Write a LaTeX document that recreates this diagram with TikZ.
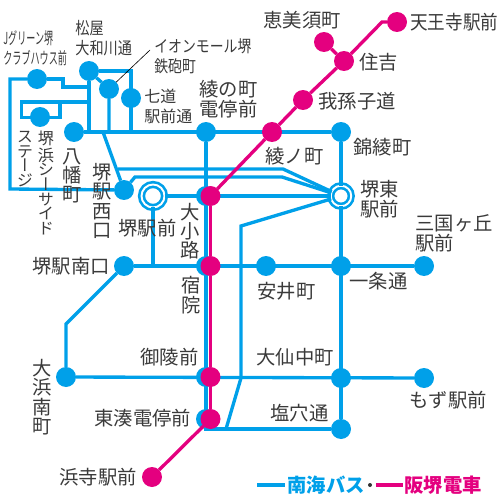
\documentclass[tikz,border=0pt]{standalone}
\usepackage{fontspec}
\usepackage{graphicx}
\newfontfamily\jp{Noto Sans CJK JP}
\newfontfamily\jpv[RawFeature=+vert]{Noto Sans CJK JP}
\definecolor{nankai}{HTML}{00A0E9}
\definecolor{hankai}{HTML}{E4007F}
\definecolor{ink}{HTML}{3A3A3A}
\tikzset{
  bus/.style={nankai, line width=1.9pt},
  tram/.style={hankai, line width=1.9pt},
  leader/.style={black, line width=0.35pt},
  bstop/.style={circle, fill=nankai, minimum size=0.4cm, inner sep=0pt, outer sep=0pt},
  tstop/.style={circle, fill=hankai, minimum size=0.4cm, inner sep=0pt, outer sep=0pt},
  % interchange rings
  ring/.style={circle, draw=nankai, fill=white, line width=1.5pt, double=white, double distance=1.1pt, minimum size=#1, inner sep=0pt, outer sep=0pt},
  lab/.style={font=\jp\fontsize{11}{11.4}\selectfont, text=ink, inner sep=0pt, align=left, anchor=west},
  vlab/.style={font=\jpv\fontsize{11}{11}\selectfont, text=ink, inner sep=0pt, align=center},
  small/.style={font=\jp\fontsize{9.4}{11.2}\selectfont},
  vsmall/.style={font=\jpv\fontsize{9.2}{8.3}\selectfont},
}
\begin{document}
\begin{tikzpicture}[x=0.02cm, y=-0.02cm]
  \useasboundingbox (0,0) rectangle (500,500);
  % bus stops
  \foreach \p/\n in {{(37,79)}/jgreen, {(89,71)}/matsuya, {(109,89)}/aeon, {(131,98)}/shichido,
                     {(40,117)}/stage, {(74,132)}/yawata, {(206,132)}/ayanocho, {(341,132)}/nishiki,
                     {(124,190)}/nishi, {(206,196)}/oshojib, {(124,266)}/minami, {(206,266)}/shukuinb,
                     {(266,266)}/yasui, {(341,266)}/ichijo, {(424,266)}/mikuni, {(66,377)}/ohama,
                     {(206,377)}/goryob, {(341,378)}/daisen, {(424,378)}/mozu, {(206,419)}/minatob,
                     {(341,429)}/shioana}
    \node[bstop] (\n) at \p {};
  \node[ring=0.46cm] (sakai) at (153,196) {};
  \node[ring=0.41cm] (higashi) at (341,196) {};
  % bends of the bus lines
  \foreach \p/\n in {{(10,79)}/loopa, {(10,189)}/loopb, {(63,79)}/ja, {(63,87)}/jb, {(89,87)}/jc,
                     {(89,102)}/fa, {(21.5,102)}/fb, {(21.5,117.5)}/fc, {(60,117.5)}/fd, {(60,102)}/fe,
                     {(131,71)}/mtop, {(103,132)}/da, {(118,169)}/db, {(283,169)}/dc, {(135,177)}/ea,
                     {(282,177)}/eb, {(241,226)}/ga, {(241,378)}/gb, {(226,429)}/gc, {(206,429)}/corner,
                     {(66,324)}/oa, {(150,50)}/leadend}
    \path \p coordinate (\n);
  \draw[bus] (jgreen) -- (loopa) -- (loopb) -- (nishi);
  \draw[bus] (jgreen) -- (ja) -- (jb) -- (jc);
  \draw[bus] (matsuya) -- (matsuya |- yawata);
  \draw[bus] (fa) -- (fb) -- (fc) -- (fd) -- (fe);
  \draw[bus] (matsuya) -- (mtop) -- (mtop |- yawata);
  \draw[bus] (matsuya) -- (aeon) -- (aeon |- yawata);
  \draw[bus] (yawata) -- (nishiki);
  \draw[bus] (da) -- (nishi);
  \draw[bus] (db) -- (dc) -- (higashi);
  \draw[bus] (nishi) -- (ea) -- (eb) -- (higashi);
  \draw[bus] (sakai) -- (higashi);
  \draw[bus] (sakai) -- (sakai |- minami);
  \draw[bus] (higashi) -- (ga) -- (gb) -- (gc);
  \draw[bus] (ayanocho) -- (corner) -- (shioana);
  \draw[bus] (nishiki) -- (higashi);
  \draw[bus] (higashi) -- (shioana);
  \draw[bus] (minami) -- (mikuni);
  \draw[bus] (minami) -- (oa) -- (ohama);
  \draw[bus] (ohama) -- (mozu);
  \draw[leader] (aeon) -- (leadend);
  % tram stops on top
  \foreach \p/\n in {{(397,22)}/tennoji, {(324,42)}/ebisu, {(344,61)}/sumiyoshi, {(303,100)}/abiko,
                     {(272,132)}/ayano, {(210.5,196)}/oshoji, {(210.5,266)}/shukuin, {(210.5,377)}/goryo,
                     {(210.5,419)}/minato, {(152,477)}/hamadera}
    \node[tstop] (\n) at \p {};
  \coordinate (tbend) at (382,22);
  \draw[tram] (tennoji) -- (tbend) -- (sumiyoshi) -- (abiko) -- (ayano) -- (oshoji);
  \draw[tram] (ebisu) -- (sumiyoshi);
  \draw[tram] (oshoji) -- (shukuin) -- (goryo) -- (minato);
  \draw[tram] (minato) -- (hamadera);
  % labels
  \foreach \p/\n/\t in {{(263,20)}/lebisu/恵美須町, {(410,22)}/ltennoji/\scalebox{.91}[1]{天王寺駅前}, {(359,62)}/lsumi/住吉,
                        {(318,101)}/labiko/我孫子道, {(353,147)}/lnishiki/錦綾町, {(265,156)}/layano/綾ノ町,
                        {(360,199.5)}/lhigashi/{堺東\\駅前}, {(415,233.5)}/lmikuni/{三国ヶ丘\\駅前},
                        {(349,281)}/lichijo/一条通, {(257,291)}/lyasui/安井町, {(256,357)}/ldaisen/大仙中町,
                        {(409,400)}/lmozu/もず駅前, {(270,413)}/lshio/塩穴通,
                        {(199,99)}/layanocho/{綾の町\\電停前},
                        {(118,228)}/lsakai/堺駅前, {(140,357)}/lgoryo/御陵前, {(94,418)}/lminato/東湊電停前,
                        {(32,266)}/lminami/堺駅南口, {(59,477)}/lhama/浜寺駅前}
    \node[lab] (\n) at \p {\t};
  \node[lab, font=\jp\fontsize{9.6}{11.4}\selectfont] (lmatsuya) at (75,38) {\scalebox{.84}[1]{松屋}\\\scalebox{.84}[1]{大和川通}};
  \node[lab, small] (ljgreen) at (3,48.5) {\scalebox{.55}[1]{Jグリーン堺}\\\scalebox{.55}[1]{クラブハウス前}};
  \node[lab, small] (laeon) at (154,56) {\scalebox{.84}[1]{イオンモール堺}\\\scalebox{.84}[1]{鉄砲町}};
  \node[lab, font=\jp\fontsize{9.1}{10.9}\selectfont] (lshichi) at (144,106.5) {七道\\駅前通};
  \foreach \p/\n/\t in {{(72,176)}/lyawata/{八\\幡\\町}, {(102,201)}/lnishi/{堺\\駅\\西\\口},
                        {(190,231)}/loshoji/{大\\小\\路}, {(191,295)}/lshukuin/{宿\\院},
                        {(42,397)}/lohama/{大\\浜\\南\\町}}
    \node[vlab] (\n) at \p {\t};
  \node[vlab, vsmall] (lseaside) at (46,183) {堺\\浜\\シ\\ー\\サ\\イ\\ド};
  \node[vlab, vsmall] (lstage) at (25,159) {ス\\テ\\ー\\ジ};
  % legend
  \coordinate (bleg) at (257,485);
  \coordinate (bleg2) at (285,485);
  \coordinate (tleg) at (376,485);
  \coordinate (tleg2) at (403,485);
  \draw[bus] (bleg) -- (bleg2);
  \draw[tram] (tleg) -- (tleg2);
  \node[lab, text=nankai, font=\jp\bfseries\fontsize{11}{11}\selectfont] (lnankai) at (287,485) {南海バス};
  \node[circle, fill=black!80, minimum size=0.08cm, inner sep=0pt] (ldot) at (370,485) {};
  \node[lab, text=hankai, font=\jp\bfseries\fontsize{11}{11}\selectfont] (lhankai) at (404,485) {阪堺電車};
\end{tikzpicture}
\end{document}
